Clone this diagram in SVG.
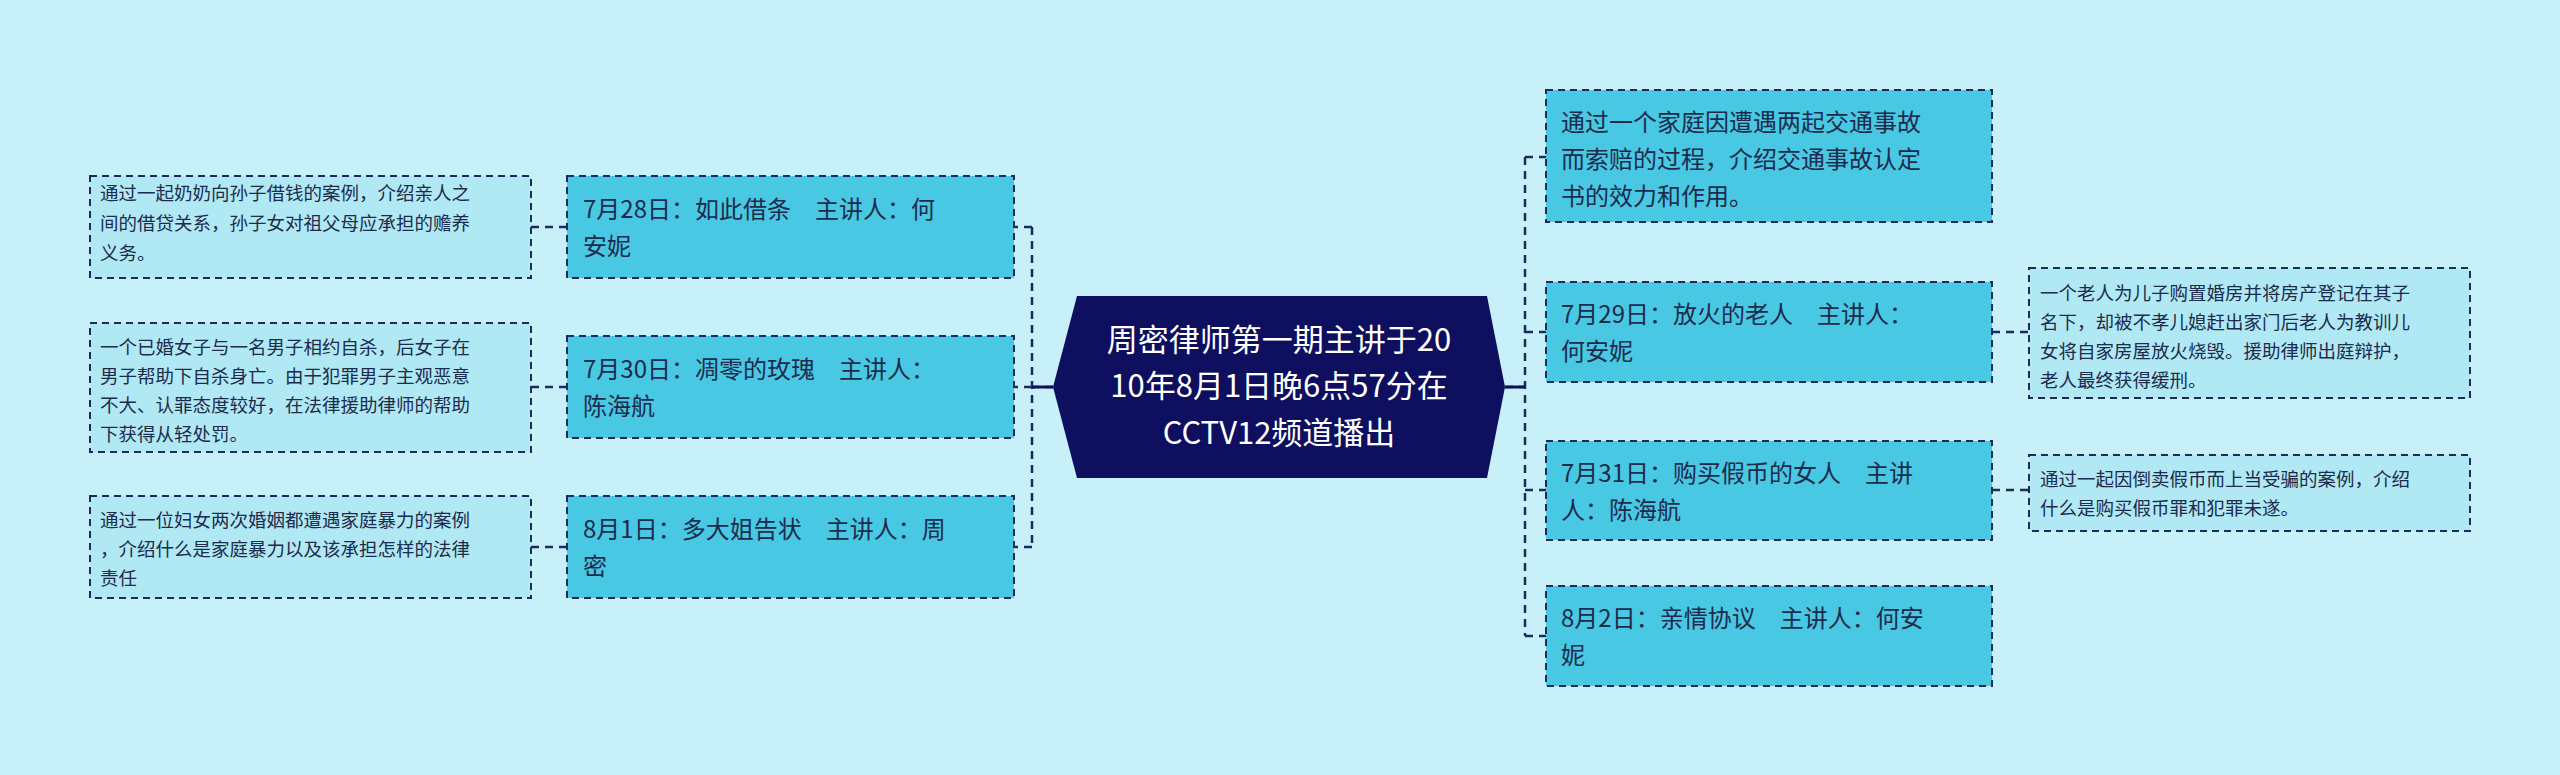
<svg xmlns="http://www.w3.org/2000/svg" width="2560" height="775" viewBox="0 0 2560 775">
<style>
.m{fill:#48c8e2;stroke:#1d2b5c;stroke-width:2;stroke-dasharray:7,5}
.l{fill:#b0e8f4;stroke:#1d2b5c;stroke-width:2;stroke-dasharray:7,5}
.mt{font-family:"Noto Sans CJK SC","Liberation Sans",sans-serif;font-size:24px;fill:#1d2b4c}
.lt{font-family:"Noto Sans CJK SC","Liberation Sans",sans-serif;font-size:18.5px;fill:#1d2b4c}
.ct{font-family:"Noto Sans CJK SC","Liberation Sans",sans-serif;font-size:31px;fill:#ffffff;text-anchor:middle}
.c{fill:none;stroke:#1d2b5c;stroke-width:2.5;stroke-dasharray:8,6}
</style>
<rect width="2560" height="775" fill="#c8f0f8"/>
<g id="connectors">
<path class="c" d="M1053 387H1032M1032 227V547M1032 227H1014M1032 387H1014M1032 547H1014"/>
<path class="c" d="M531 227H567M531 387H567M531 547H567"/>
<path class="c" d="M1505 387H1525M1525 157V636M1525 157H1546M1525 332H1546M1525 490H1546M1525 636H1546"/>
<path class="c" d="M1992 332H2029M1992 490H2029"/>
<path d="M1053 387H1032M1505 387H1525" stroke="#0f0f5f" stroke-width="3"/>
</g>
<g id="center">
<polygon points="1053,387 1077,296 1487,296 1505,387 1487,478 1077,478" fill="#0f0f5f"/>
<text class="ct" x="1279" y="351">周密律师第一期主讲于20</text>
<text class="ct" x="1279" y="397">10年8月1日晚6点57分在</text>
<text class="ct" x="1279" y="444">CCTV12频道播出</text>
</g>
<g id="n1"><rect class="m" x="567" y="176" width="447" height="102"/><text class="mt" x="583" y="218">7月28日：如此借条　主讲人：何</text><text class="mt" x="583" y="255">安妮</text></g>
<g id="n2"><rect class="m" x="567" y="336" width="447" height="102"/><text class="mt" x="583" y="378">7月30日：凋零的玫瑰　主讲人：</text><text class="mt" x="583" y="415">陈海航</text></g>
<g id="n3"><rect class="m" x="567" y="496" width="447" height="102"/><text class="mt" x="583" y="538">8月1日：多大姐告状　主讲人：周</text><text class="mt" x="583" y="575">密</text></g>
<g id="l1"><rect class="l" x="90" y="176" width="441" height="102"/><text class="lt" x="100" y="200">通过一起奶奶向孙子借钱的案例，介绍亲人之</text><text class="lt" x="100" y="230">间的借贷关系，孙子女对祖父母应承担的赡养</text><text class="lt" x="100" y="260">义务。</text></g>
<g id="l2"><rect class="l" x="90" y="323" width="441" height="129"/><text class="lt" x="100" y="354">一个已婚女子与一名男子相约自杀，后女子在</text><text class="lt" x="100" y="383">男子帮助下自杀身亡。由于犯罪男子主观恶意</text><text class="lt" x="100" y="412">不大、认罪态度较好，在法律援助律师的帮助</text><text class="lt" x="100" y="441">下获得从轻处罚。</text></g>
<g id="l3"><rect class="l" x="90" y="496" width="441" height="102"/><text class="lt" x="100" y="527">通过一位妇女两次婚姻都遭遇家庭暴力的案例</text><text class="lt" x="100" y="556">，介绍什么是家庭暴力以及该承担怎样的法律</text><text class="lt" x="100" y="585">责任</text></g>
<g id="r1"><rect class="m" x="1546" y="90" width="446" height="132"/><text class="mt" x="1561" y="131">通过一个家庭因遭遇两起交通事故</text><text class="mt" x="1561" y="168">而索赔的过程，介绍交通事故认定</text><text class="mt" x="1561" y="205">书的效力和作用。</text></g>
<g id="r2"><rect class="m" x="1546" y="282" width="446" height="100"/><text class="mt" x="1561" y="323">7月29日：放火的老人　主讲人：</text><text class="mt" x="1561" y="360">何安妮</text></g>
<g id="r3"><rect class="m" x="1546" y="441" width="446" height="99"/><text class="mt" x="1561" y="482">7月31日：购买假币的女人　主讲</text><text class="mt" x="1561" y="519">人：陈海航</text></g>
<g id="r4"><rect class="m" x="1546" y="586" width="446" height="100"/><text class="mt" x="1561" y="627">8月2日：亲情协议　主讲人：何安</text><text class="mt" x="1561" y="664">妮</text></g>
<g id="rl2"><rect class="l" x="2029" y="268" width="441" height="130"/><text class="lt" x="2040" y="300">一个老人为儿子购置婚房并将房产登记在其子</text><text class="lt" x="2040" y="329">名下，却被不孝儿媳赶出家门后老人为教训儿</text><text class="lt" x="2040" y="358">女将自家房屋放火烧毁。援助律师出庭辩护，</text><text class="lt" x="2040" y="387">老人最终获得缓刑。</text></g>
<g id="rl3"><rect class="l" x="2029" y="455" width="441" height="76"/><text class="lt" x="2040" y="486">通过一起因倒卖假币而上当受骗的案例，介绍</text><text class="lt" x="2040" y="515">什么是购买假币罪和犯罪未遂。</text></g>
</svg>
